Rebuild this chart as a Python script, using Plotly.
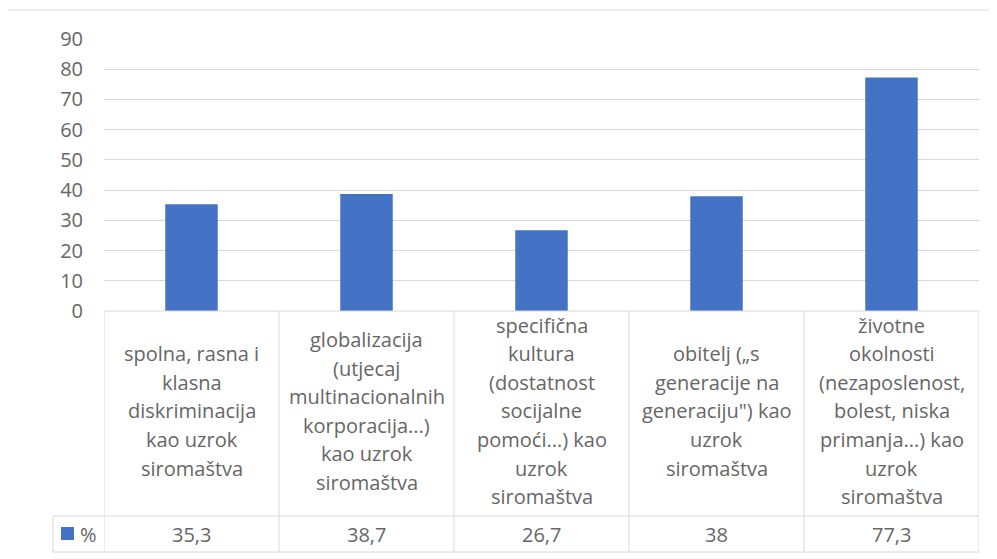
import plotly.graph_objects as go

# data
categories = [
    "spolna, rasna i<br>klasna<br>diskriminacija<br>kao uzrok<br>siromaštva",
    "globalizacija<br>(utjecaj<br>multinacionalnih<br>korporacija...)<br>kao uzrok<br>siromaštva",
    "specifična<br>kultura<br>(dostatnost<br>socijalne<br>pomoći...) kao<br>uzrok<br>siromaštva",
    "obitelj („s<br>generacije na<br>generaciju\") kao<br>uzrok<br>siromaštva",
    "životne<br>okolnosti<br>(nezaposlenost,<br>bolest, niska<br>primanja...) kao<br>uzrok<br>siromaštva",
]
values = [35.3, 38.7, 26.7, 38, 77.3]
y_ticks = [0, 10, 20, 30, 40, 50, 60, 70, 80, 90]
series_name = "%"

W, H = 997, 559
OFF = 8  # page body margin
BLUE = "#4472C4"
GRID = "#D9D9D9"
TEXT = "#666666"
FONT = "Open Sans"


def fx(p):
    return (p - OFF) / W


def fy(p):
    return 1 - (p - OFF) / H


# plot area and table rows (screen pixels)
plot_left, plot_right = 104, 979
plot_top, plot_bottom = 39, 311
row_split, table_bottom = 516, 552
legend_left = 53
line_step = 28.5
label_center = 411

idx = list(range(len(values)))

fig = go.Figure()
fig.add_trace(go.Bar(
    x=idx,
    y=values,
    name=series_name,
    width=0.3,
    marker=dict(color=BLUE, line=dict(width=0)),
    showlegend=False,
))

shapes = []
# outer chart border (only top/left visible)
shapes.append(dict(type="rect", xref="paper", yref="paper",
                   x0=fx(7), x1=1.05, y0=-0.05, y1=fy(10),
                   line=dict(color=GRID, width=1), layer="below"))
# table horizontal lines
for y_px, x_start in [(plot_bottom, plot_left), (row_split, legend_left), (table_bottom, legend_left)]:
    shapes.append(dict(type="line", xref="paper", yref="paper",
                       x0=fx(x_start), x1=fx(plot_right), y0=fy(y_px), y1=fy(y_px),
                       line=dict(color=GRID, width=1)))
# table vertical lines at category boundaries
for b in [i - 0.5 for i in idx] + [idx[-1] + 0.5]:
    shapes.append(dict(type="line", xref="x", yref="paper",
                       x0=b, x1=b, y0=fy(table_bottom), y1=fy(plot_bottom),
                       line=dict(color=GRID, width=1)))
shapes.append(dict(type="line", xref="paper", yref="paper",
                   x0=fx(legend_left), x1=fx(legend_left), y0=fy(table_bottom), y1=fy(row_split),
                   line=dict(color=GRID, width=1)))
# legend key
shapes.append(dict(type="rect", xref="paper", yref="paper",
                   x0=fx(61), x1=fx(74), y0=fy(540), y1=fy(527),
                   fillcolor=BLUE, line=dict(width=0)))

annotations = []
for i, cat in zip(idx, categories):
    lines = cat.split("<br>")
    n = len(lines)
    for k, line in enumerate(lines):
        y_px = label_center + (k - (n - 1) / 2) * line_step
        annotations.append(dict(x=i, xref="x", y=fy(y_px), yref="paper",
                                text=line, showarrow=False,
                                xanchor="center", yanchor="middle",
                                font=dict(family=FONT, size=20, color=TEXT)))
for i, v in zip(idx, values):
    label = f"{v:g}".replace(".", ",")
    annotations.append(dict(x=i, xref="x", y=fy((row_split + table_bottom) / 2), yref="paper",
                            text=label, showarrow=False,
                            xanchor="center", yanchor="middle",
                            font=dict(family=FONT, size=20, color=TEXT)))
annotations.append(dict(x=fx(78), xref="paper", y=fy((row_split + table_bottom) / 2), yref="paper",
                        text=series_name, showarrow=False, xanchor="left", yanchor="middle",
                        font=dict(family=FONT, size=20, color=TEXT)))

fig.update_layout(
    width=W,
    height=H,
    margin=dict(l=0, r=0, t=0, b=0, autoexpand=False),
    plot_bgcolor="white",
    paper_bgcolor="white",
    shapes=shapes,
    annotations=annotations,
    xaxis=dict(domain=[fx(plot_left), fx(plot_right)], range=[-0.5, len(values) - 0.5],
               showticklabels=False, showgrid=False, zeroline=False, fixedrange=True,
               automargin=False),
    yaxis=dict(domain=[fy(plot_bottom), fy(plot_top)], range=[0, 90],
               tickvals=y_ticks, showgrid=True, gridcolor=GRID, gridwidth=1,
               zeroline=False, ticklabelstandoff=20, automargin=False, fixedrange=True,
               tickfont=dict(family=FONT, size=20, color=TEXT)),
    font=dict(family=FONT),
)

fig.write_html("out.html")
